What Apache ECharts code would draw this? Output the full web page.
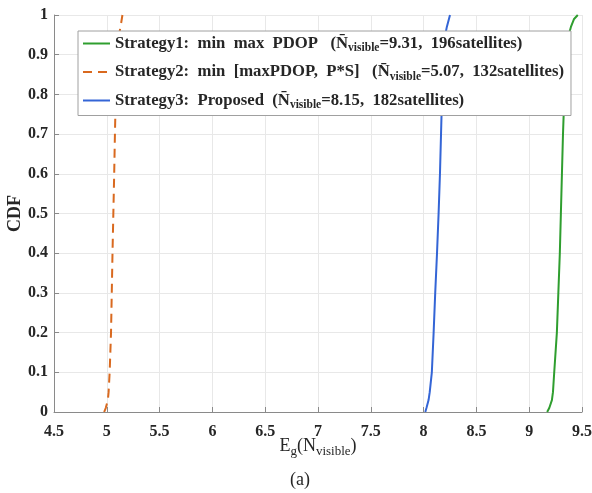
<!DOCTYPE html>
<html>
<head>
<meta charset="utf-8">
<script src="https://cdn.jsdelivr.net/npm/echarts@6/dist/echarts.min.js"></script>
<style>
  html, body { margin: 0; padding: 0; background: #fff; }
  #chart { width: 592px; height: 493px; }
</style>
</head>
<body>
<div id="chart"></div>
<script>
// CDF levels shared by the three curves
const cdfLevels = [0, 0.01, 0.03, 0.05, 0.1, 0.2, 0.3, 0.4, 0.5, 0.6, 0.7, 0.8, 0.9, 0.95, 0.97, 0.99, 1];

// E_g(N_visible) at each level
const strategy1 = [9.17, 9.19, 9.215, 9.225, 9.237, 9.262, 9.276, 9.29, 9.3, 9.31, 9.32, 9.333, 9.35, 9.375, 9.395, 9.425, 9.46];
const strategy2 = [4.975, 4.99, 5.01, 5.017, 5.027, 5.04, 5.047, 5.054, 5.062, 5.07, 5.077, 5.085, 5.1, 5.115, 5.13, 5.142, 5.148];
const strategy3 = [8.016, 8.027, 8.047, 8.058, 8.078, 8.095, 8.11, 8.127, 8.142, 8.155, 8.165, 8.175, 8.19, 8.205, 8.22, 8.24, 8.25];

const seriesNames = ["Strategy1", "Strategy2", "Strategy3"];
const legendLabels = {
  Strategy1: "{b|Strategy1:  min  max  PDOP   (N\u0304}{s|visible}{b|=9.31,  196satellites)}",
  Strategy2: "{b|Strategy2:  min  [maxPDOP,  P*S]   (N\u0304}{s|visible}{b|=5.07,  132satellites)}",
  Strategy3: "{b|Strategy3:  Proposed  (N\u0304}{s|visible}{b|=8.15,  182satellites)}"
};

const xTicks = { min: 4.5, max: 9.5, step: 0.5 };
const yTicks = { min: 0, max: 1, step: 0.1 };

const serif = "Liberation Serif";
const toPairs = (xs) => xs.map((x, i) => [x, cdfLevels[i]]);

const chart = echarts.init(document.getElementById("chart"), null, { renderer: "canvas" });

const option = {
  animation: false,
  grid: { left: 54, right: 10, top: 15, bottom: 81, outerBoundsMode: "none", containLabel: false },
  legend: {
    orient: "vertical",
    left: 78,
    top: 31,
    padding: [4, 7, 4, 4],
    itemGap: 9,
    itemWidth: 27,
    itemHeight: 10,
    backgroundColor: "#fff",
    borderColor: "#a0a0a0",
    borderWidth: 1,
    data: seriesNames,
    itemStyle: { opacity: 0 },
    formatter: (name) => legendLabels[name],
    textStyle: {
      color: "#262626",
      rich: {
        b: { fontFamily: serif, fontWeight: "bold", fontSize: 16.7, lineHeight: 22, color: "#262626" },
        s: { fontFamily: serif, fontWeight: "bold", fontSize: 11.5, lineHeight: 11, verticalAlign: "bottom", color: "#262626" }
      }
    }
  },
  xAxis: {
    type: "value",
    min: xTicks.min,
    max: xTicks.max,
    interval: xTicks.step,
    name: "{n|E}{s|g}{n|(N}{s|visible}{n|)}",
    nameLocation: "middle",
    nameGap: 22,
    nameMoveOverlap: false,
    nameTextStyle: {
      rich: {
        n: { fontFamily: serif, fontSize: 18, lineHeight: 24, color: "#262626" },
        s: { fontFamily: serif, fontSize: 13, lineHeight: 13, verticalAlign: "bottom", color: "#262626" }
      }
    },
    axisLine: { lineStyle: { color: "#8a8a8a", width: 1 } },
    axisTick: { inside: true, length: 5, lineStyle: { color: "#8a8a8a" } },
    axisLabel: { fontFamily: serif, fontWeight: "bold", fontSize: 16, color: "#262626", margin: 12 },
    splitLine: { show: true, lineStyle: { color: "#e8e8e8", width: 1 } }
  },
  yAxis: {
    type: "value",
    min: yTicks.min,
    max: yTicks.max,
    interval: yTicks.step,
    name: "CDF",
    nameLocation: "middle",
    nameGap: 30,
    nameMoveOverlap: false,
    nameTextStyle: { fontFamily: serif, fontWeight: "bold", fontSize: 18, color: "#262626" },
    axisLine: { show: true, lineStyle: { color: "#8a8a8a", width: 1 } },
    axisTick: { show: true, inside: true, length: 5, lineStyle: { color: "#8a8a8a" } },
    axisLabel: { fontFamily: serif, fontWeight: "bold", fontSize: 16, color: "#262626", margin: 6 },
    splitLine: { show: true, lineStyle: { color: "#e8e8e8", width: 1 } }
  },
  series: [
    {
      name: "Strategy1",
      type: "line",
      data: toPairs(strategy1),
      symbol: "none",
      color: "#2f9e2f",
      lineStyle: { width: 2, color: "#2f9e2f" }
    },
    {
      name: "Strategy2",
      type: "line",
      data: toPairs(strategy2),
      symbol: "none",
      color: "#d9691f",
      lineStyle: { width: 2, color: "#d9691f", type: [9, 6] }
    },
    {
      name: "Strategy3",
      type: "line",
      data: toPairs(strategy3),
      symbol: "none",
      color: "#3465d6",
      lineStyle: { width: 2, color: "#3465d6" }
    }
  ],
  graphic: [
    {
      type: "text",
      left: 290,
      top: 471,
      style: { text: "(a)", fontFamily: serif, fontSize: 18, fill: "#262626" }
    }
  ]
};

chart.setOption(option);
</script>
</body>
</html>
